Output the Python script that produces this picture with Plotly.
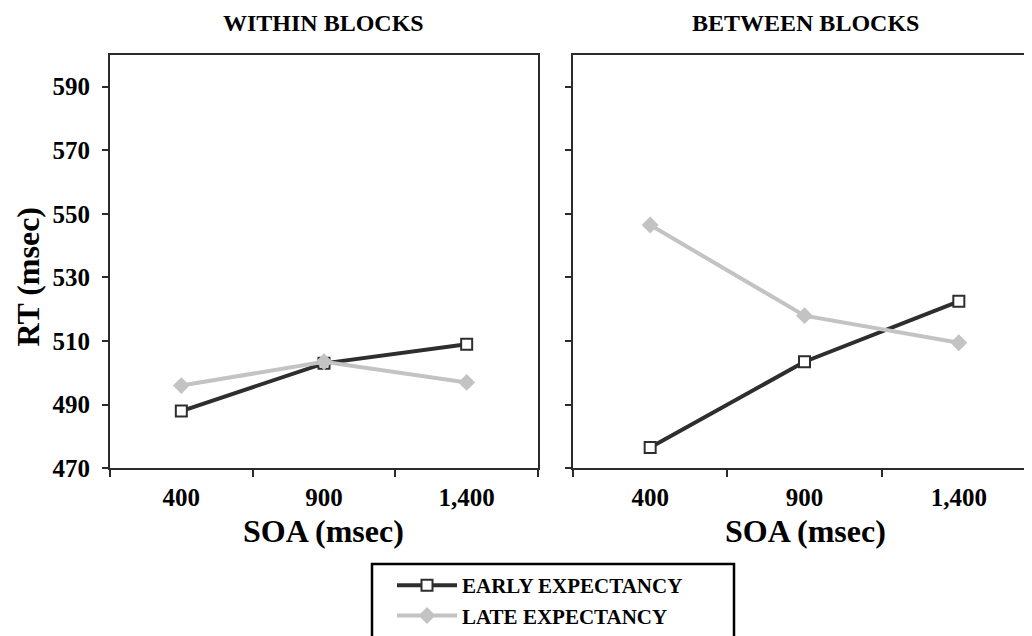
import plotly.graph_objects as go

# ---- data ----
soa = ["400", "900", "1,400"]
within_early = [488, 503, 509]
within_late = [496, 503.5, 497]
between_early = [476.5, 503.5, 522.5]
between_late = [546.5, 518, 509.5]
panel_titles = ["WITHIN BLOCKS", "BETWEEN BLOCKS"]
series_names = ["EARLY EXPECTANCY", "LATE EXPECTANCY"]
y_ticks = [470, 490, 510, 530, 550, 570, 590]

# page has an 8px body margin; figure fills the rest of the 1032x636 window
OFF = 8
W, H = 1032 - OFF, 636 - OFF
FONT = "Liberation Serif"
AX = "#2b2b2b"
DARK = "#2e2e2e"
LIGHT = "#c3c3c3"

def px_x(p):
    return (p - OFF) / W

def px_y(p):
    return 1 - (p - OFF) / H

fig = go.Figure()

early_style = dict(mode="lines+markers",
                   line=dict(color=DARK, width=4),
                   marker=dict(symbol="square", size=11, color="white",
                               line=dict(color=DARK, width=2)))
late_style = dict(mode="lines+markers",
                  line=dict(color=LIGHT, width=4),
                  marker=dict(symbol="diamond", size=13, color=LIGHT,
                              line=dict(color=LIGHT, width=0)))

fig.add_trace(go.Scatter(x=soa, y=within_early, name=series_names[0],
                         xaxis="x", yaxis="y", showlegend=True, **early_style))
fig.add_trace(go.Scatter(x=soa, y=within_late, name=series_names[1],
                         xaxis="x", yaxis="y", showlegend=True, **late_style))
fig.add_trace(go.Scatter(x=soa, y=between_early, name=series_names[0],
                         xaxis="x2", yaxis="y2", showlegend=False, **early_style))
fig.add_trace(go.Scatter(x=soa, y=between_late, name=series_names[1],
                         xaxis="x2", yaxis="y2", showlegend=False, **late_style))

tickfont = dict(family=FONT, size=25, color="black", weight="bold")
ydom = [px_y(469), px_y(55)]

xcommon = dict(type="category", tickson="boundaries", ticks="outside",
               ticklen=7, tickwidth=2, tickcolor=AX, showline=True,
               linecolor=AX, linewidth=2, showgrid=False, zeroline=False,
               tickfont=tickfont, automargin=False, ticklabelstandoff=6,
               fixedrange=True)
ycommon = dict(range=[470, 600], tickvals=y_ticks, ticks="outside",
               ticklen=6, tickwidth=2, tickcolor=AX, showline=True,
               linecolor=AX, linewidth=2, showgrid=False, zeroline=False,
               tickfont=tickfont, automargin=False, ticklabelstandoff=7,
               domain=ydom, fixedrange=True)

# right panel is cut by the page edge: its full width would reach x=1036
right_end = 2.5 - (1036 - 1032) / ((1036 - 573) / 3)

fig.update_layout(
    width=W, height=H,
    margin=dict(l=0, r=0, t=0, b=0),
    paper_bgcolor="white", plot_bgcolor="white",
    font=dict(family=FONT, color="black"),
    xaxis=dict(domain=[px_x(110), px_x(538)], range=[-0.5, 2.5],
               mirror=True, anchor="y", **xcommon),
    yaxis=dict(anchor="x", mirror=True, **ycommon),
    xaxis2=dict(domain=[px_x(573), 1.0], range=[-0.5, right_end],
                mirror=True, anchor="y2", **xcommon),
    yaxis2=dict(anchor="x2", mirror=False, showticklabels=False, **ycommon),
    showlegend=True,
    legend=dict(x=px_x(392), y=px_y(566), xanchor="left", yanchor="top",
                bgcolor="rgba(0,0,0,0)", borderwidth=0,
                font=dict(family=FONT, size=21, color="black", weight="bold"),
                itemwidth=60, tracegroupgap=0),
)

bold_title = dict(family=FONT, size=24, color="black", weight="bold")
axis_title = dict(family=FONT, size=32, color="black", weight="bold")

annotations = [
    dict(text=panel_titles[0], x=px_x(323), y=1.0, xref="paper", yref="paper",
         showarrow=False, font=bold_title, xanchor="center", yanchor="top"),
    dict(text=panel_titles[1], x=px_x(805), y=1.0, xref="paper", yref="paper",
         showarrow=False, font=bold_title, xanchor="center", yanchor="top"),
    dict(text="SOA (msec)", x=px_x(323), y=px_y(532), xref="paper", yref="paper",
         showarrow=False, font=axis_title, xanchor="center", yanchor="middle"),
    dict(text="SOA (msec)", x=px_x(805), y=px_y(532), xref="paper", yref="paper",
         showarrow=False, font=axis_title, xanchor="center", yanchor="middle"),
    dict(text="RT (msec)", x=px_x(28), y=px_y(277), xref="paper", yref="paper",
         showarrow=False, font=axis_title, textangle=-90,
         xanchor="center", yanchor="middle"),
]
fig.update_layout(annotations=annotations)

fig.add_shape(type="rect", xref="paper", yref="paper",
              x0=px_x(372), x1=px_x(734), y0=-0.1, y1=px_y(565),
              line=dict(color="black", width=2.5), fillcolor="rgba(0,0,0,0)",
              layer="above")

fig.write_html("out.html")
